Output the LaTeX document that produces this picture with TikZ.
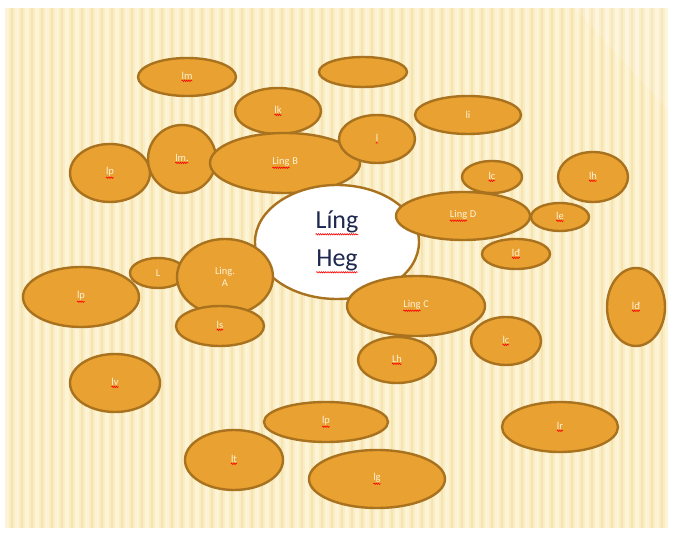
\documentclass[tikz,border=0pt]{standalone}
\usepackage{fontspec}
\setmainfont{Carlito}
\usetikzlibrary{shapes.geometric,decorations.pathmorphing}

\definecolor{paper}{HTML}{FBEDC2}
\definecolor{stripehi}{HTML}{FEF6DC}
\definecolor{stripelo}{HTML}{EFDBA0}
\definecolor{blobfill}{HTML}{E9A132}
\definecolor{blobline}{HTML}{A9721E}
\definecolor{labelcol}{HTML}{FDF1D6}
\definecolor{inkblue}{HTML}{1F2850}

% word with a red spell-check squiggle underneath
\newcommand{\sqword}[1]{\tikz[baseline=(w.base)]{\node[shape=rectangle,draw=none,fill=none,
    inner sep=0pt,outer sep=0pt,minimum width=0pt,minimum height=0pt](w){#1};
  \draw[red,line width=0.6pt,decorate,decoration={snake,amplitude=0.7pt,segment length=2.2pt}]
  ([yshift=-1.4pt]w.south west) -- ([yshift=-1.4pt]w.south east);}}

\begin{document}
\begin{tikzpicture}[x=1pt,y=-1pt,
  blob/.style={ellipse,draw=blobline,fill=blobfill,line width=2.4pt,inner sep=0pt,
    text=labelcol,font=\fontsize{10.5}{12}\selectfont,align=center},
  hub/.style={ellipse,draw=blobline,fill=white,line width=2.4pt,inner sep=0pt,
    text=inkblue,font=\fontsize{26}{38}\selectfont,align=center}]

\useasboundingbox (0,0) rectangle (673,534);
\fill[white] (0,0) rectangle (673,534);

% striped slide background
\fill[paper] (5,8) rectangle (668,528);
\begin{scope}
  \clip (5,8) rectangle (668,528);
  \foreach \x in {5,15,...,665} {
    \fill[stripehi,opacity=0.85] (\x,8) rectangle (\x+4,528);
    \fill[stripelo,opacity=0.45] (\x+6,8) rectangle (\x+7.5,528);
  }
  \fill[white,opacity=0.15] (575,8) -- (668,8) -- (668,110) -- cycle;
\end{scope}

% satellite ellipses
\node[blob,minimum width=98pt,minimum height=38pt] (lmtop) at (187,77) {\sqword{lm}};
\node[blob,minimum width=88pt,minimum height=30pt] (blank) at (363,72) {};
\node[blob,minimum width=86pt,minimum height=46pt] (lk) at (278,111) {\sqword{lk}};
\node[blob,minimum width=106pt,minimum height=38pt] (li) at (468,115) {li};
\node[blob,minimum width=80pt,minimum height=58pt] (lpa) at (110,173) {\sqword{lp}};
\node[blob,minimum width=68pt,minimum height=68pt] (lmc) at (182,159) {\sqword{lm.}};
\node[blob,minimum width=150pt,minimum height=60pt] (lingb) at (285,163) {\sqword{Ling}~B};
\node[blob,minimum width=76pt,minimum height=48pt] (ll) at (377,139) {\sqword{l}};

% central ellipse
\node[hub,minimum width=164pt,minimum height=114pt] (heg) at (337,242)
  {\sqword{Líng}\\\sqword{Heg}};

\node[blob,minimum width=60pt,minimum height=32pt] (lc) at (492,177) {\sqword{lc}};
\node[blob,minimum width=70pt,minimum height=50pt] (lh) at (593,177) {\sqword{lh}};
\node[blob,minimum width=134pt,minimum height=48pt] (lingd) at (463,216) {\sqword{Ling}~D};
\node[blob,minimum width=58pt,minimum height=28pt] (le) at (560,217) {\sqword{le}};
\node[blob,minimum width=68pt,minimum height=30pt] (ld) at (516,254) {\sqword{lđ}};
\node[blob,minimum width=56pt,minimum height=30pt] (bigl) at (158,273) {L};
\node[blob,minimum width=96pt,minimum height=76pt] (linga) at (225,277) {Ling.\\A};
\node[blob,minimum width=116pt,minimum height=60pt] (lpb) at (81,297) {\sqword{lp}};
\node[blob,minimum width=88pt,minimum height=40pt] (ls) at (220,326) {\sqword{ls}};
\node[blob,minimum width=138pt,minimum height=60pt] (lingc) at (416,306) {\sqword{Ling}~C};
\node[blob,minimum width=58pt,minimum height=78pt] (ldr) at (636,307) {\sqword{lđ}};
\node[blob,minimum width=70pt,minimum height=48pt] (lcb) at (506,341) {\sqword{lc}};
\node[blob,minimum width=78pt,minimum height=46pt] (lhb) at (397,360) {\sqword{Lh}};
\node[blob,minimum width=90pt,minimum height=58pt] (lv) at (115,383) {\sqword{lv}};
\node[blob,minimum width=124pt,minimum height=40pt] (lpc) at (326,422) {\sqword{lp}};
\node[blob,minimum width=116pt,minimum height=50pt] (lr) at (560,427) {\sqword{lr}};
\node[blob,minimum width=98pt,minimum height=60pt] (lt) at (234,460) {\sqword{lt}};
\node[blob,minimum width=136pt,minimum height=58pt] (lg) at (377,479) {\sqword{lg}};

\end{tikzpicture}
\end{document}
